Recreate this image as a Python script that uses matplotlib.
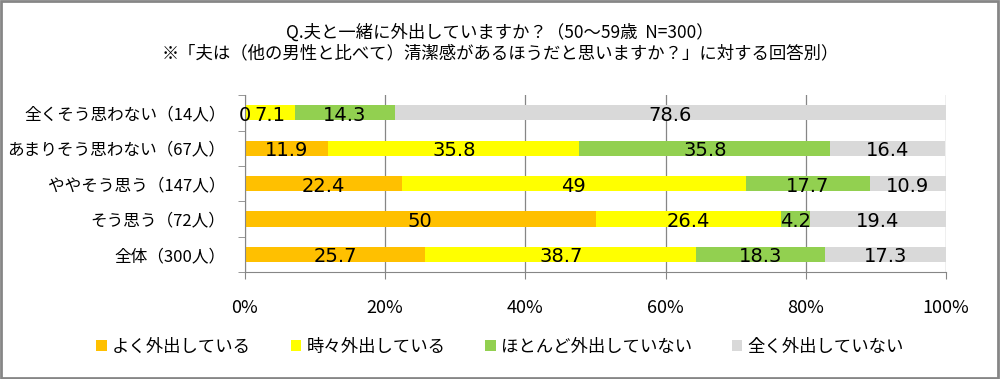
import matplotlib
matplotlib.use("Agg")
import matplotlib.pyplot as plt
from matplotlib.patches import Rectangle
import numpy as np

plt.rcParams['font.family'] = ['Noto Sans CJK JP', 'DejaVu Sans']

categories = ["全くそう思わない（14人）", "あまりそう思わない（67人）", "ややそう思う（147人）",
              "そう思う（72人）", "全体（300人）"]
series_names = ["よく外出している", "時々外出している", "ほとんど外出していない", "全く外出していない"]
often = [0, 11.9, 22.4, 50, 25.7]
sometimes = [7.1, 35.8, 49, 26.4, 38.7]
rarely = [14.3, 35.8, 17.7, 4.2, 18.3]
never = [78.6, 16.4, 10.9, 19.4, 17.3]
xticks = [0, 20, 40, 60, 80, 100]
xtick_labels = ["0%", "20%", "40%", "60%", "80%", "100%"]
title1 = "Q.夫と一緒に外出していますか？（50～59歳  N=300）"
title2 = "※「夫は（他の男性と比べて）清潔感があるほうだと思いますか？」に対する回答別）"

colors = ["#FFC000", "#FFFF00", "#92D050", "#D9D9D9"]

fig = plt.figure(figsize=(10, 3.79), dpi=100)
ax = fig.add_axes([0.245, 0.282, 0.701, 0.467])

y = np.arange(len(categories))
left = np.zeros(len(categories))
for vals, name, c in zip([often, sometimes, rarely, never], series_names, colors):
    vals = np.array(vals, dtype=float)
    ax.barh(y, vals, left=left, height=0.43, color=c, label=name, zorder=2)
    for yi, l, v in zip(y, left, vals):
        txt = f"{v:g}"
        ax.text(l + v / 2, yi + 0.07, txt, ha='center', va='center', fontsize=14,
                family=['DejaVu Sans'], color='black', zorder=3)
    left += vals

ax.set_ylim(len(categories) - 0.5, -0.5)
ax.set_xlim(0, 100)
ax.set_yticks(y)
ax.set_yticklabels(categories, fontsize=12)
ax.set_yticks(np.arange(-0.5, len(categories), 1), minor=True)
ax.tick_params(axis='y', which='major', length=0, pad=14)
ax.tick_params(axis='y', which='minor', length=5, color='#868686')
ax.set_xticks(xticks)
ax.set_xticklabels(xtick_labels, fontsize=13)
ax.tick_params(axis='x', length=5, color='#868686', pad=14)
ax.grid(axis='x', color='#868686', linewidth=0.9, zorder=0)
for s in ['top', 'right']:
    ax.spines[s].set_visible(False)
for s in ['left', 'bottom']:
    ax.spines[s].set_color('#868686')

fig.text(0.5, 0.915, title1, ha='center', va='center', fontsize=12.5)
fig.text(0.5, 0.86, title2, ha='center', va='center', fontsize=12.5)

leg = fig.legend(loc='center', bbox_to_anchor=(0.5, 0.085), ncol=4, frameon=False,
                 fontsize=12.5, handlelength=0.6, handleheight=0.6, handletextpad=0.3,
                 columnspacing=2.3)

fig.patches.append(Rectangle((0.001, 0.002), 0.997, 0.995, transform=fig.transFigure,
                             fill=False, edgecolor='#868686', linewidth=2))

fig.savefig("out.png", dpi=100)
